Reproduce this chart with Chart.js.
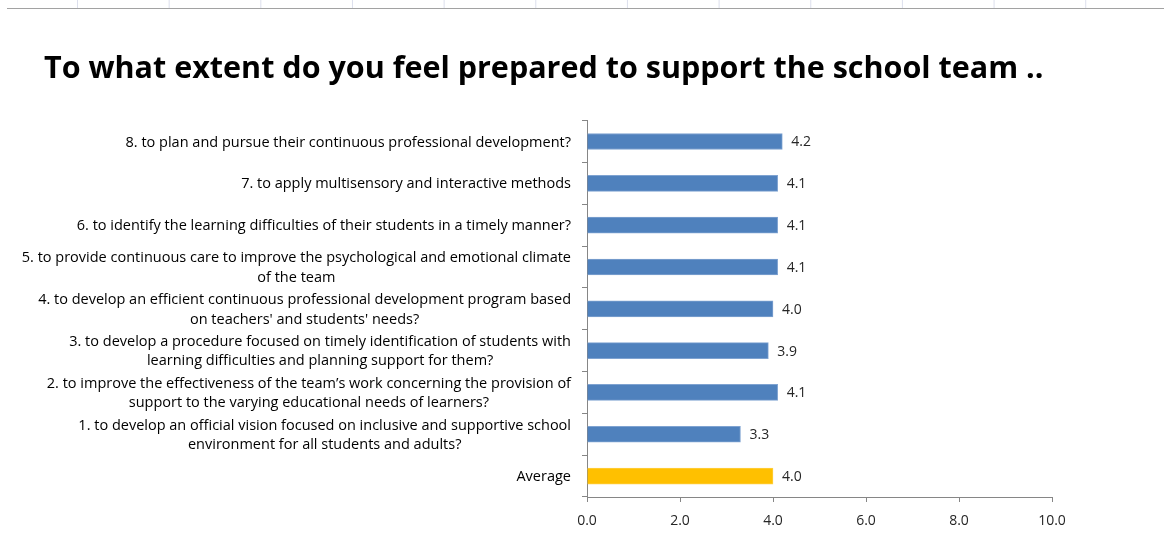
<!DOCTYPE html>
<html>
<head>
<meta charset="utf-8">
<script src="https://cdn.jsdelivr.net/npm/chart.js@4/dist/chart.umd.min.js"></script>
<style>
  html, body { margin: 0; padding: 0; background: #fff; }
  #wrap { position: relative; width: 1164px; height: 545px; }
  #sheet {
    position: absolute; left: 7px; top: 0; width: 1157px; height: 8px;
    border-bottom: 1px solid #a2a2a2;
    background-image: linear-gradient(to right, #dcdfec 1px, transparent 1px);
    background-size: 91.67px 100%;
    background-position: 70px 0;
  }
  canvas { position: absolute; left: 0; top: 0; }
</style>
</head>
<body>
<div id="wrap">
  <div id="sheet"></div>
  <canvas id="graphicC" width="1164" height="545"></canvas>
</div>
<script>
const canvasG = document.getElementById('graphicC');

// chart data
const titleText = 'To what extent do you feel prepared to support the school team ..';

const categories = [
    ['8. to plan and pursue their continuous professional development?'],
    ['7. to apply multisensory and interactive methods'],
    ['6. to identify the learning difficulties of their students in a timely manner?'],
    ['5. to provide continuous care to improve the psychological and emotional climate', 'of the team'],
    ['4. to develop an efficient continuous professional development program based', "on teachers' and students' needs?"],
    ['3. to develop a procedure focused on timely identification of students with', 'learning difficulties and planning support for them?'],
    ['2. to improve the effectiveness of the team\u2019s work concerning the provision of', 'support to the varying educational needs of learners?'],
    ['1. to develop an official vision focused on inclusive and supportive school', 'environment for all students and adults?'],
    ['Average']
];

const scores = [4.2, 4.1, 4.1, 4.1, 4.0, 3.9, 4.1, 3.3, 4.0];

const xTicks = [0, 2, 4, 6, 8, 10];

const blue = '#4F81BD';
const gold = '#FFC000';
const barColors = categories.map(c => c[0] === 'Average' ? gold : blue);
const barBorders = categories.map(c => c[0] === 'Average' ? '#ffcf40' : '#7fa3d1');

const fontFam = '"Open Sans", Lato, sans-serif';

// category labels: block right-aligned to the axis, lines centred inside the block
const catLabels = {
    id: 'catLabels',
    afterDraw(chart){
        const ctx = chart.ctx;
        const yScale = chart.scales.y;
        const right = chart.chartArea.left - 16;
        const lh = 19.5;
        ctx.save();
        ctx.font = '14.5px ' + fontFam;
        ctx.fillStyle = '#000';
        ctx.textAlign = 'center';
        ctx.textBaseline = 'middle';
        categories.forEach((lines, i)=>{
            const y = yScale.getPixelForValue(i) + 1;
            const w = Math.max(...lines.map(l => ctx.measureText(l).width));
            const cx = right - w / 2;
            const y0 = y - (lines.length - 1) * lh / 2;
            lines.forEach((l, j)=> ctx.fillText(l, cx, y0 + j * lh));
        });
        ctx.restore();
    }
};

// value labels at the end of each bar
const valueLabels = {
    id: 'valueLabels',
    afterDatasetsDraw(chart){
        const ctx = chart.ctx;
        const meta = chart.getDatasetMeta(0);
        ctx.save();
        ctx.font = '14px ' + fontFam;
        ctx.fillStyle = '#262626';
        ctx.textAlign = 'left';
        ctx.textBaseline = 'middle';
        meta.data.forEach((bar, i)=>{
            ctx.fillText(scores[i].toFixed(1), bar.x + 9, bar.y + 1);
        });
        ctx.restore();
    }
};

const graphicScores = new Chart(canvasG, {
    type: 'bar',
    data: {
        labels: categories,
        datasets: [{
            label: 'Score',
            data: scores,
            backgroundColor: barColors,
            borderColor: barBorders,
            borderWidth: 1,
            barThickness: 16
        }]
    },
    options: {
        indexAxis: 'y',
        responsive: false,
        animation: false,
        layout: { padding: { left: 44, right: 112, top: 0, bottom: 0 } },
        plugins: {
            legend: { display: false },
            tooltip: { enabled: false },
            title: {
                display: true,
                text: titleText,
                align: 'start',
                color: '#000',
                font: { family: fontFam, size: 30.5, weight: 'bold' },
                padding: { top: 51, bottom: 33 }
            }
        },
        scales: {
            x: {
                min: 0,
                max: 10,
                afterBuildTicks: scale => { scale.ticks = xTicks.map(v => ({ value: v })); },
                afterFit: scale => { scale.height = 48; },
                grid: { drawOnChartArea: false, drawTicks: true, tickLength: 5, color: '#868686' },
                border: { color: '#868686' },
                ticks: {
                    padding: 11,
                    color: '#262626',
                    font: { family: fontFam, size: 14 },
                    callback: v => Number(v).toFixed(1)
                }
            },
            y: {
                afterFit: scale => { scale.width = 543; },
                grid: { drawOnChartArea: false, drawTicks: true, tickLength: 5, color: '#868686' },
                border: { color: '#868686' },
                ticks: { callback: () => '' }
            }
        }
    },
    plugins: [catLabels, valueLabels]
});
</script>
</body>
</html>
